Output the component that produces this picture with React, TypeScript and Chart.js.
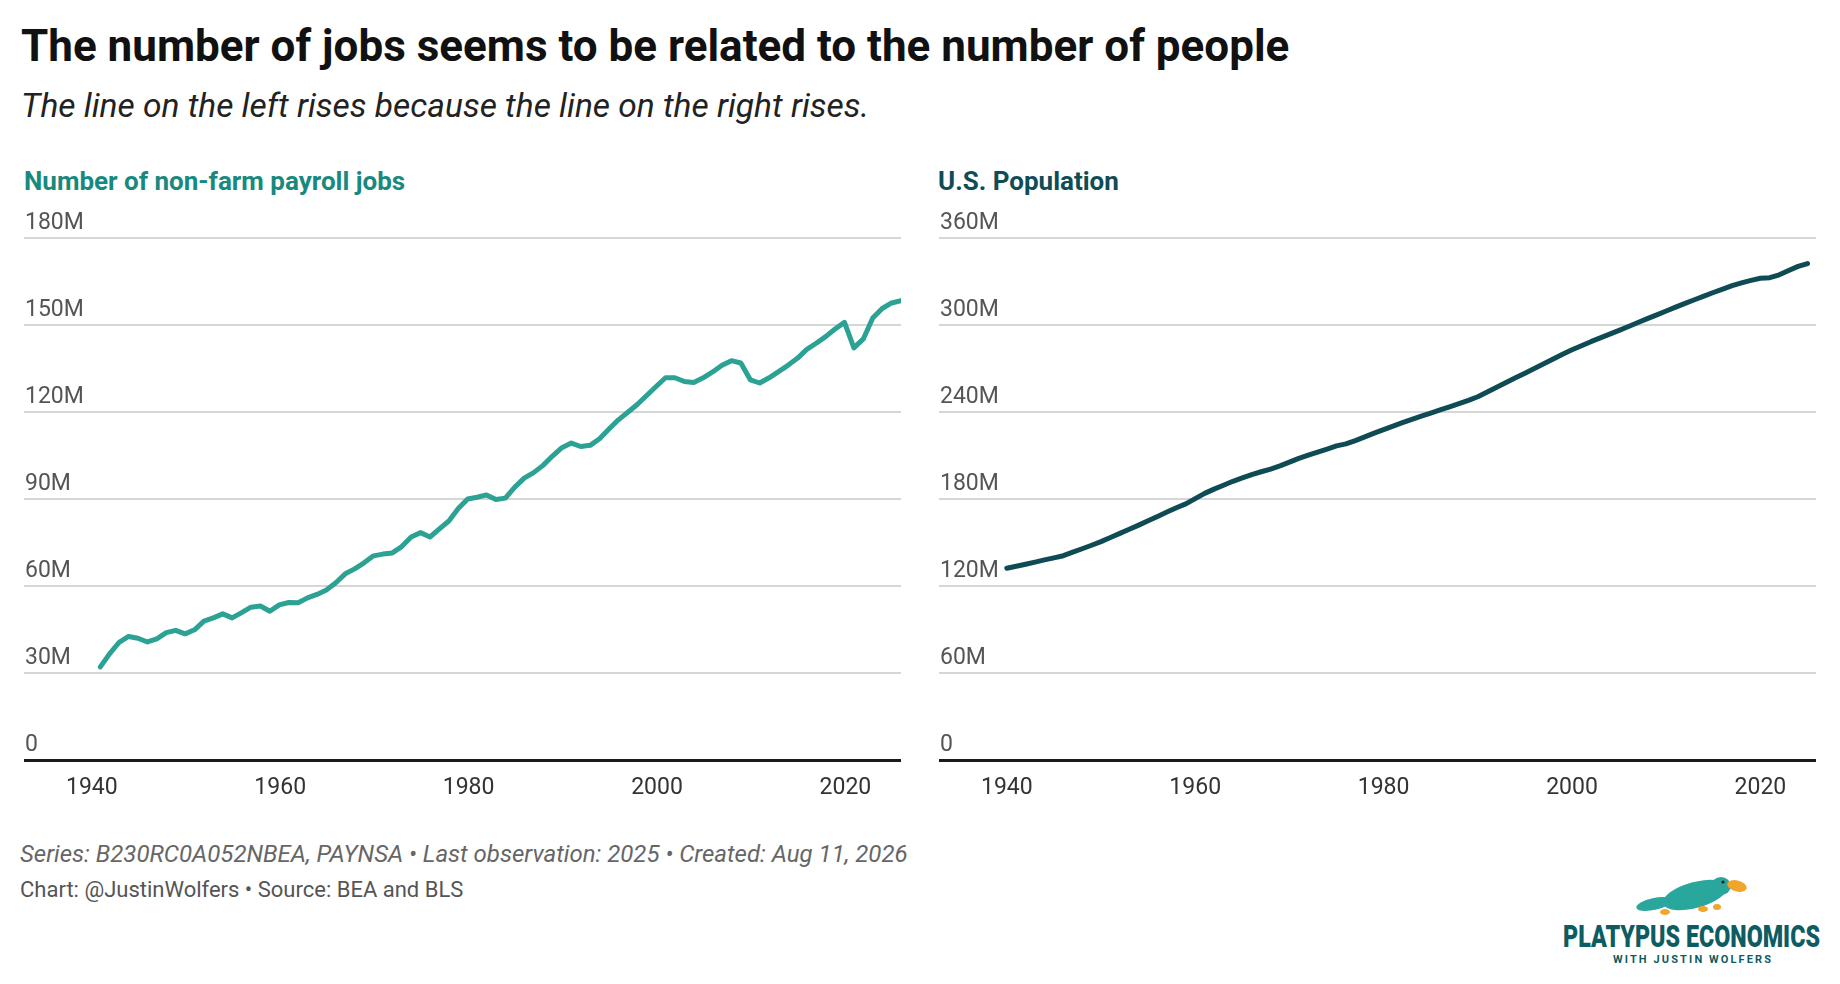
import { useEffect, useRef } from 'react';
import { Chart, registerables } from 'chart.js';

Chart.register(...registerables);

// annual observations, 1940-2025
const years = [
  1940, 1941, 1942, 1943, 1944, 1945, 1946, 1947, 1948, 1949,
  1950, 1951, 1952, 1953, 1954, 1955, 1956, 1957, 1958, 1959,
  1960, 1961, 1962, 1963, 1964, 1965, 1966, 1967, 1968, 1969,
  1970, 1971, 1972, 1973, 1974, 1975, 1976, 1977, 1978, 1979,
  1980, 1981, 1982, 1983, 1984, 1985, 1986, 1987, 1988, 1989,
  1990, 1991, 1992, 1993, 1994, 1995, 1996, 1997, 1998, 1999,
  2000, 2001, 2002, 2003, 2004, 2005, 2006, 2007, 2008, 2009,
  2010, 2011, 2012, 2013, 2014, 2015, 2016, 2017, 2018, 2019,
  2020, 2021, 2022, 2023, 2024, 2025,
];

// non-farm payroll jobs, millions
const jobsMillions = [
  32.1, 36.7, 40.6, 42.6, 42.0, 40.7, 41.8, 43.9, 44.7, 43.5,
  44.9, 47.9, 49.0, 50.4, 49.0, 50.8, 52.7, 53.1, 51.3, 53.5,
  54.3, 54.2, 55.9, 57.1, 58.6, 61.1, 64.2, 65.9, 68.0, 70.4,
  71.0, 71.4, 73.6, 76.9, 78.4, 76.9, 79.7, 82.4, 86.7, 90.0,
  90.6, 91.4, 89.8, 90.3, 94.1, 97.2, 99.1, 101.6, 104.8, 107.7,
  109.3, 108.1, 108.5, 110.8, 114.1, 117.3, 119.9, 122.6, 125.7, 128.8,
  131.8, 131.8, 130.5, 130.2, 131.8, 133.8, 136.1, 137.7, 136.9, 131.1,
  130.0, 131.8, 133.9, 136.1, 138.5, 141.6, 143.7, 146.0, 148.6, 150.9,
  142.1, 145.2, 152.4, 155.7, 157.6, 158.4,
];

// U.S. population, millions
const populationMillions = [
  132.2, 133.6, 135.0, 136.5, 138.0, 139.4, 140.9, 143.3, 145.7, 148.1,
  150.6, 153.4, 156.3, 159.1, 162.0, 165.0, 168.0, 171.0, 174.0, 176.6,
  180.3, 183.9, 186.8, 189.5, 192.2, 194.5, 196.8, 198.8, 200.6, 202.8,
  205.4, 208.0, 210.2, 212.3, 214.4, 216.6, 218.0, 220.3, 222.8, 225.4,
  227.9, 230.3, 232.6, 234.9, 237.1, 239.3, 241.5, 243.6, 245.8, 248.0,
  250.5, 253.8, 257.1, 260.4, 263.6, 266.8, 270.0, 273.2, 276.5, 279.8,
  282.9, 285.7, 288.5, 291.1, 293.7, 296.3, 299.0, 301.7, 304.4, 307.0,
  309.7, 312.3, 314.9, 317.4, 319.9, 322.4, 324.8, 327.1, 329.1, 330.8,
  332.2, 332.6, 334.6, 337.6, 340.4, 342.4,
];

const xTicks = [1940, 1960, 1980, 2000, 2020];
const jobsTicks = [0, 30, 60, 90, 120, 150, 180];
const populationTicks = [0, 60, 120, 180, 240, 300, 360];

// jobs are dated at the end of each year, population at the start
const JOBS_DATE_SHIFT = 0.9;

const FONT = 'Roboto, "Noto Sans", sans-serif';

type PanelProps = {
  values: number[];
  shift: number;
  yTicks: number[];
  color: string;
};

const PanelChart = ({ values, shift, yTicks, color }: PanelProps) => {
  const canvasRef = useRef<HTMLCanvasElement | null>(null);

  useEffect(() => {
    if (!canvasRef.current) return;

    const points = years.map((year, i) => ({ x: year + shift, y: values[i] }));

    const chart = new Chart(canvasRef.current, {
      type: 'line',
      data: {
        datasets: [
          {
            data: points,
            borderColor: color,
            borderWidth: 5,
            borderCapStyle: 'round',
            borderJoinStyle: 'round',
            pointRadius: 0,
            tension: 0,
            clip: false,
          },
        ],
      },
      options: {
        animation: false,
        responsive: true,
        maintainAspectRatio: false,
        layout: { padding: { top: 38, left: 0, right: 0, bottom: 0 } },
        plugins: {
          legend: { display: false },
          tooltip: { enabled: false },
        },
        scales: {
          x: {
            type: 'linear',
            min: 1932.8,
            max: 2025.9,
            afterBuildTicks: (scale: any) => {
              scale.ticks = xTicks.map((value) => ({ value }));
            },
            afterFit: (scale: any) => {
              scale.height = 60;
            },
            grid: { display: false },
            border: { display: false },
            ticks: {
              padding: 6,
              color: '#333',
              autoSkip: false,
              maxRotation: 0,
              font: { family: FONT, size: 23 },
              callback: (value: any) => String(value),
            },
          },
          y: {
            min: 0,
            max: yTicks[yTicks.length - 1],
            afterBuildTicks: (scale: any) => {
              scale.ticks = yTicks.map((value) => ({ value }));
            },
            afterFit: (scale: any) => {
              scale.width = 0;
            },
            border: { display: false },
            grid: {
              drawTicks: false,
              color: (ctx: any) => (ctx.tick && ctx.tick.value === 0 ? '#1a1a1a' : '#d6d6d6'),
              lineWidth: (ctx: any) => (ctx.tick && ctx.tick.value === 0 ? 3 : 2),
            },
            ticks: {
              mirror: true,
              padding: 1,
              labelOffset: -15.2,
              color: '#555',
              font: { family: FONT, size: 23 },
              callback: (value: any) => (value === 0 ? '0' : `${value}M`),
            },
          },
        },
      },
    });

    return () => {
      chart.destroy();
    };
  }, [values, shift, yTicks, color]);

  return <canvas ref={canvasRef}></canvas>;
};

const abs = (left: number, top: number, extra: any = {}) => ({
  position: 'absolute' as const,
  left,
  top,
  lineHeight: 1,
  whiteSpace: 'nowrap' as const,
  ...extra,
});

const Logo = () => (
  <svg
    style={{ position: 'absolute', left: 1540, top: 870 }}
    width={300}
    height={110}
    viewBox="0 0 300 110"
  >
    {/* tail */}
    <ellipse cx={114} cy={34} rx={18} ry={6} transform="rotate(-12 114 34)" fill="#2aa79c" />
    {/* body and head */}
    <ellipse cx={155} cy={25} rx={33} ry={13} transform="rotate(-15 155 25)" fill="#2aa79c" />
    <ellipse cx={181} cy={16} rx={10} ry={9} fill="#2aa79c" />
    {/* bill */}
    <ellipse cx={197} cy={16} rx={10} ry={5.5} transform="rotate(14 197 16)" fill="#f0a52c" />
    <circle cx={183} cy={12} r={1.6} fill="#123" />
    {/* feet */}
    <ellipse cx={125} cy={42} rx={5} ry={3} fill="#f0a52c" />
    <ellipse cx={163} cy={39} rx={5} ry={3} fill="#f0a52c" />
    <ellipse cx={177} cy={37} rx={4} ry={3} fill="#f0a52c" />
    <text
      x={23}
      y={77}
      textLength={257}
      lengthAdjust="spacingAndGlyphs"
      fontFamily={FONT}
      fontWeight={900}
      fontSize={32}
      fill="#0d5c62"
    >
      PLATYPUS ECONOMICS
    </text>
    <text
      x={73}
      y={93.3}
      textLength={158}
      lengthAdjust="spacing"
      fontFamily={FONT}
      fontWeight={700}
      fontSize={11}
      fill="#0d5c62"
    >
      WITH JUSTIN WOLFERS
    </text>
  </svg>
);

export default function App() {
  return (
    <div
      style={{
        position: 'fixed',
        left: 0,
        top: 0,
        width: 1840,
        height: 984,
        background: '#fff',
        fontFamily: FONT,
        overflow: 'hidden',
      }}
    >
      <div style={abs(21, 24, { fontSize: 44, fontWeight: 700, color: '#111' })}>
        The number of jobs seems to be related to the number of people
      </div>
      <div style={abs(21, 89, { fontSize: 33.5, fontStyle: 'italic', color: '#222' })}>
        The line on the left rises because the line on the right rises.
      </div>

      <div style={abs(24, 168, { fontSize: 26, fontWeight: 700, color: '#17897f' })}>
        Number of non-farm payroll jobs
      </div>
      <div style={abs(938, 168, { fontSize: 26, fontWeight: 700, color: '#0e4d56' })}>
        U.S. Population
      </div>

      <div style={{ position: 'absolute', left: 24, top: 200, width: 877, height: 620 }}>
        <PanelChart values={jobsMillions} shift={JOBS_DATE_SHIFT} yTicks={jobsTicks} color="#2ca295" />
      </div>
      <div style={{ position: 'absolute', left: 939, top: 200, width: 877, height: 620 }}>
        <PanelChart values={populationMillions} shift={0} yTicks={populationTicks} color="#0e4b54" />
      </div>

      <div style={abs(20, 842, { fontSize: 24, fontStyle: 'italic', color: '#666' })}>
        Series: B230RC0A052NBEA, PAYNSA • Last observation: 2025 • Created: Aug 11, 2026
      </div>
      <div style={abs(20, 879, { fontSize: 22, color: '#555' })}>
        Chart: @JustinWolfers • Source: BEA and BLS
      </div>

      <Logo />
    </div>
  );
}
